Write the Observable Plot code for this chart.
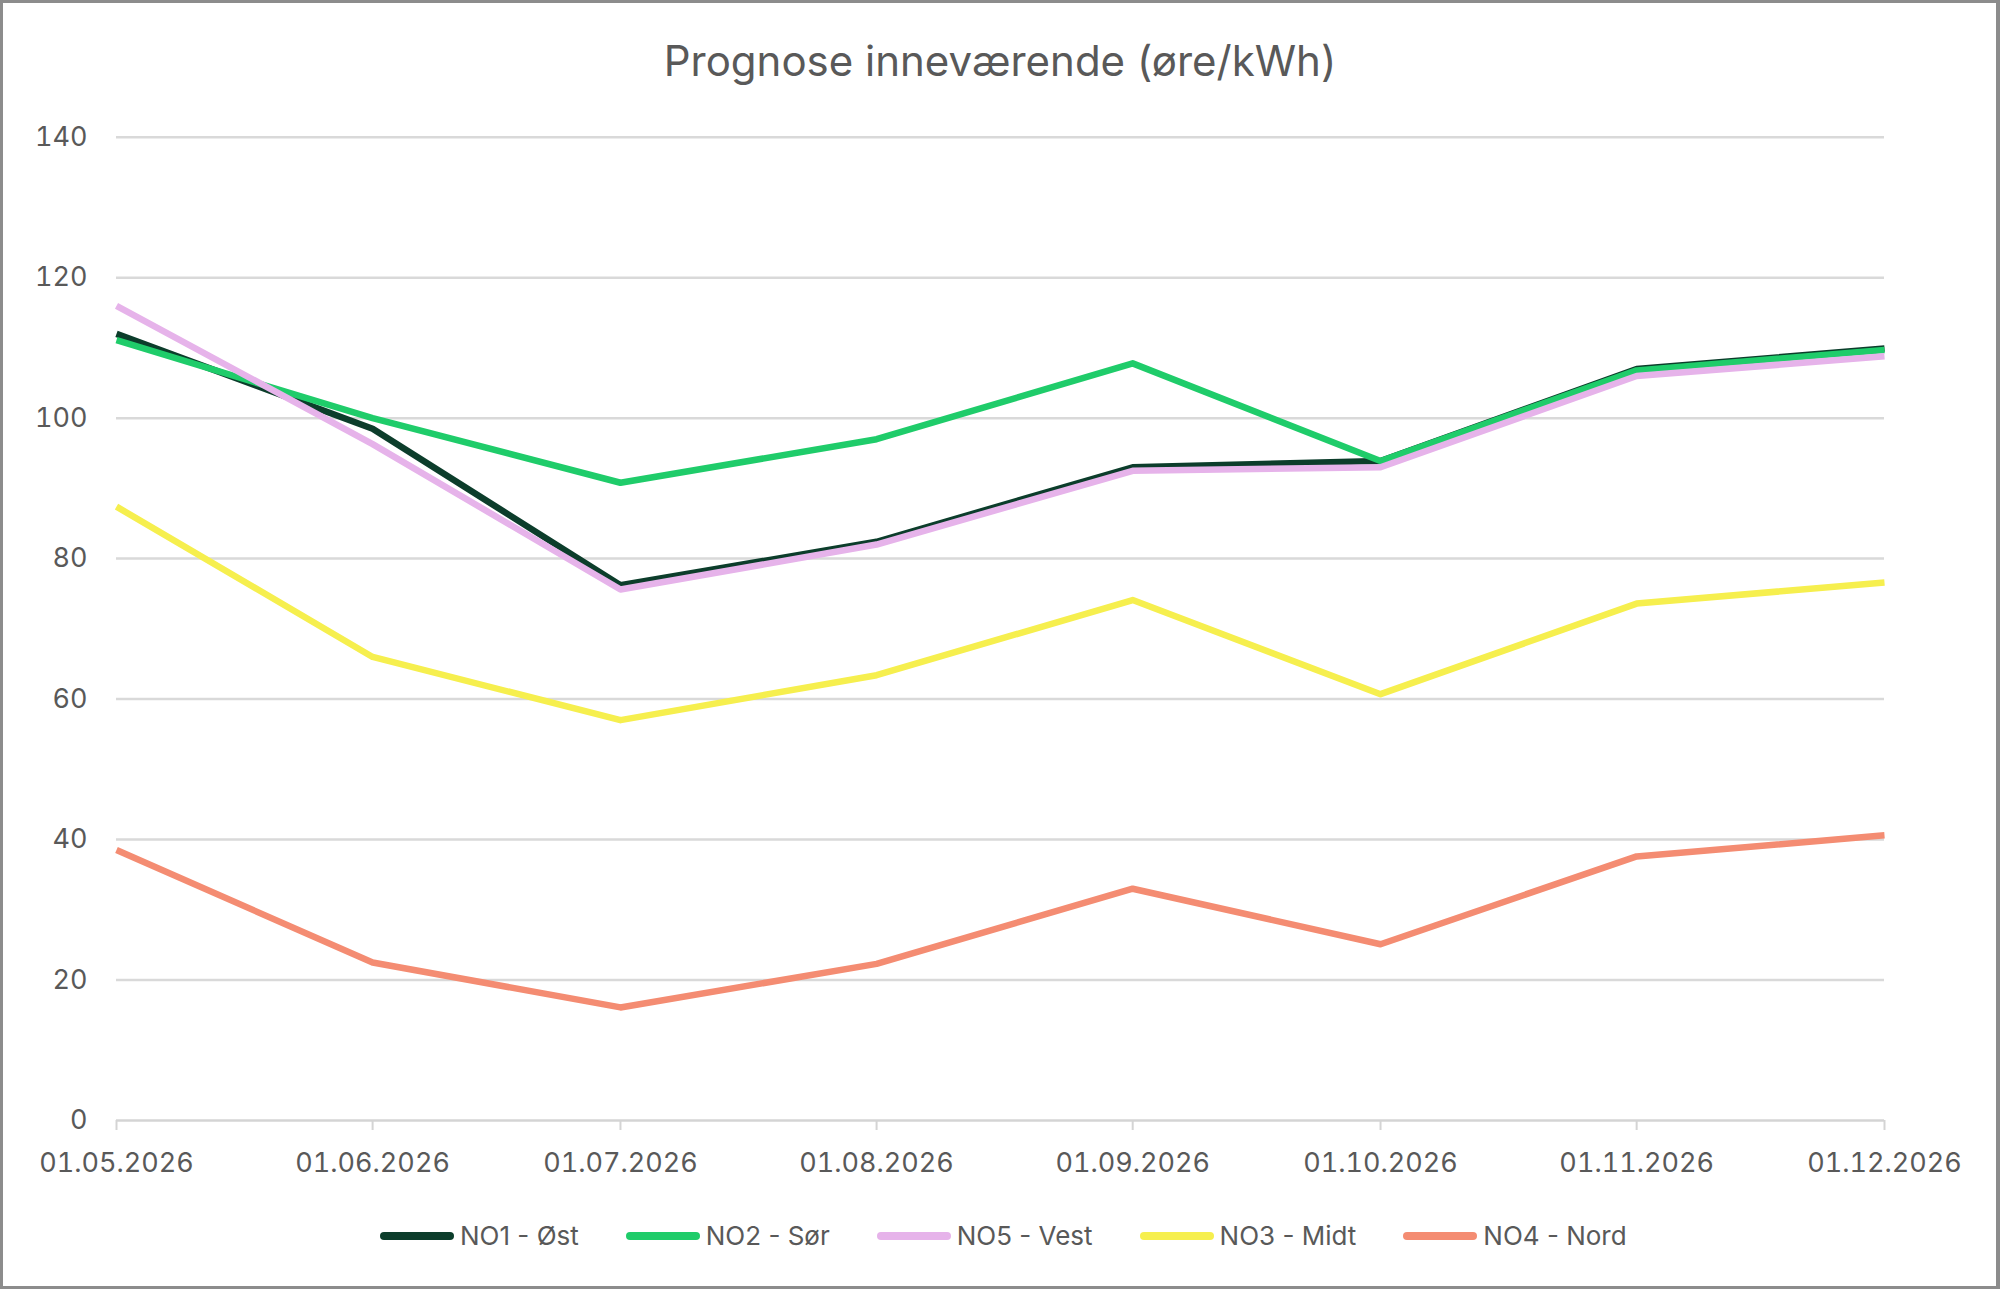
<!DOCTYPE html>
<html>
<head>
<meta charset="utf-8">
<script src="https://cdn.jsdelivr.net/npm/d3@7"></script>
<script src="https://cdn.jsdelivr.net/npm/@observablehq/plot@0.6"></script>
<style>
  html, body { margin: 0; padding: 0; background: #fff; }
  #frame {
    position: relative; width: 2000px; height: 1289px; overflow: hidden;
    font-family: Inter, "Noto Sans", sans-serif; color: #595959; background: #fff;
  }
  #border {
    position: absolute; inset: 0; border: 3px solid #8c8c8c; border-right-width: 4px;
    box-sizing: border-box; pointer-events: none;
  }
  #title {
    position: absolute; left: 0; width: 2000px; top: 35px; text-align: center;
    font-size: 42px; line-height: 52px; color: #595959;
  }
  #chart { position: absolute; left: 0; top: 0; }
  #legend {
    position: absolute; left: 379px; top: 1218px; display: flex; align-items: center;
    gap: 46px; font-size: 26px; line-height: 36px; color: #595959;
  }
  .item { display: flex; align-items: center; gap: 5px; }
  .item svg { display: block; }
</style>
</head>
<body>
<div id="frame">
  <div id="title">Prognose inneværende (øre/kWh)</div>
  <div id="chart"></div>
  <div id="legend"></div>
  <div id="border"></div>
</div>
<script>
// Monthly price forecast per Norwegian price area (øre/kWh)
const dates = ["2026-05-01", "2026-06-01", "2026-07-01", "2026-08-01", "2026-09-01", "2026-10-01", "2026-11-01", "2026-12-01"];
const seriesNames = ["NO1 - Øst", "NO2 - Sør", "NO5 - Vest", "NO3 - Midt", "NO4 - Nord"];
const seriesColors = ["#0c3d2b", "#1fcc6a", "#e6b3ea", "#f6ef4e", "#f48c72"];
const no1 = [112.0, 98.5, 76.2, 82.4, 93.0, 93.9, 107.0, 109.9];
const no2 = [111.1, 100.0, 90.8, 97.0, 107.8, 93.9, 106.8, 109.7];
const no5 = [116.0, 96.3, 75.6, 82.0, 92.5, 93.0, 106.0, 108.8];
const no3 = [87.4, 66.0, 57.0, 63.4, 74.1, 60.7, 73.6, 76.6];
const no4 = [38.5, 22.5, 16.1, 22.3, 33.0, 25.1, 37.6, 40.6];
const yTicks = [0, 20, 40, 60, 80, 100, 120, 140];

const values = [no1, no2, no5, no3, no4];
const parse = d3.utcParse("%Y-%m-%d");
const rows = seriesNames.flatMap((name, i) =>
  dates.map((d, j) => ({series: name, date: parse(d), value: values[i][j]}))
);
const fmt = d3.utcFormat("%d.%m.%Y");

const plot = Plot.plot({
  width: 2000,
  height: 1200,
  marginLeft: 116,
  marginRight: 116,
  marginTop: 136.7,
  marginBottom: 80,
  style: {fontFamily: "Inter, 'Noto Sans', sans-serif", fontSize: "27px", color: "#595959", background: "transparent", overflow: "visible"},
  x: {type: "utc", domain: [parse(dates[0]), parse(dates[dates.length - 1])]},
  y: {domain: [0, 140]},
  color: {domain: seriesNames, range: seriesColors},
  marks: [
    Plot.gridY(yTicks.filter(t => t > 0), {stroke: "#d9d9d9", strokeOpacity: 1, strokeWidth: 2.5}),
    Plot.ruleY([0], {stroke: "#d4d4d4", strokeWidth: 2.5}),
    Plot.axisY(yTicks, {tickSize: 0, tickPadding: 29, fill: "#595959", label: null}),
    Plot.axisX(dates.map(parse), {tickSize: 10, tickPadding: 22, stroke: "#d4d4d4", strokeWidth: 2, fill: "#595959", tickFormat: fmt, label: null}),
    ...seriesNames.map(name =>
      Plot.line(rows.filter(r => r.series === name), {
        x: "date", y: "value", stroke: "series", strokeWidth: 6.5,
        strokeLinejoin: "round", strokeLinecap: "butt"
      })
    )
  ]
});
document.getElementById("chart").appendChild(plot);

// Legend row below the chart
const legend = d3.select("#legend");
seriesNames.forEach((name, i) => {
  const item = legend.append("div").attr("class", "item");
  const sw = item.append("svg").attr("width", 76).attr("height", 12);
  sw.append("line").attr("x1", 5).attr("x2", 71).attr("y1", 6).attr("y2", 6)
    .attr("stroke", seriesColors[i]).attr("stroke-width", 8).attr("stroke-linecap", "round");
  item.append("span").text(name);
});
</script>
</body>
</html>
